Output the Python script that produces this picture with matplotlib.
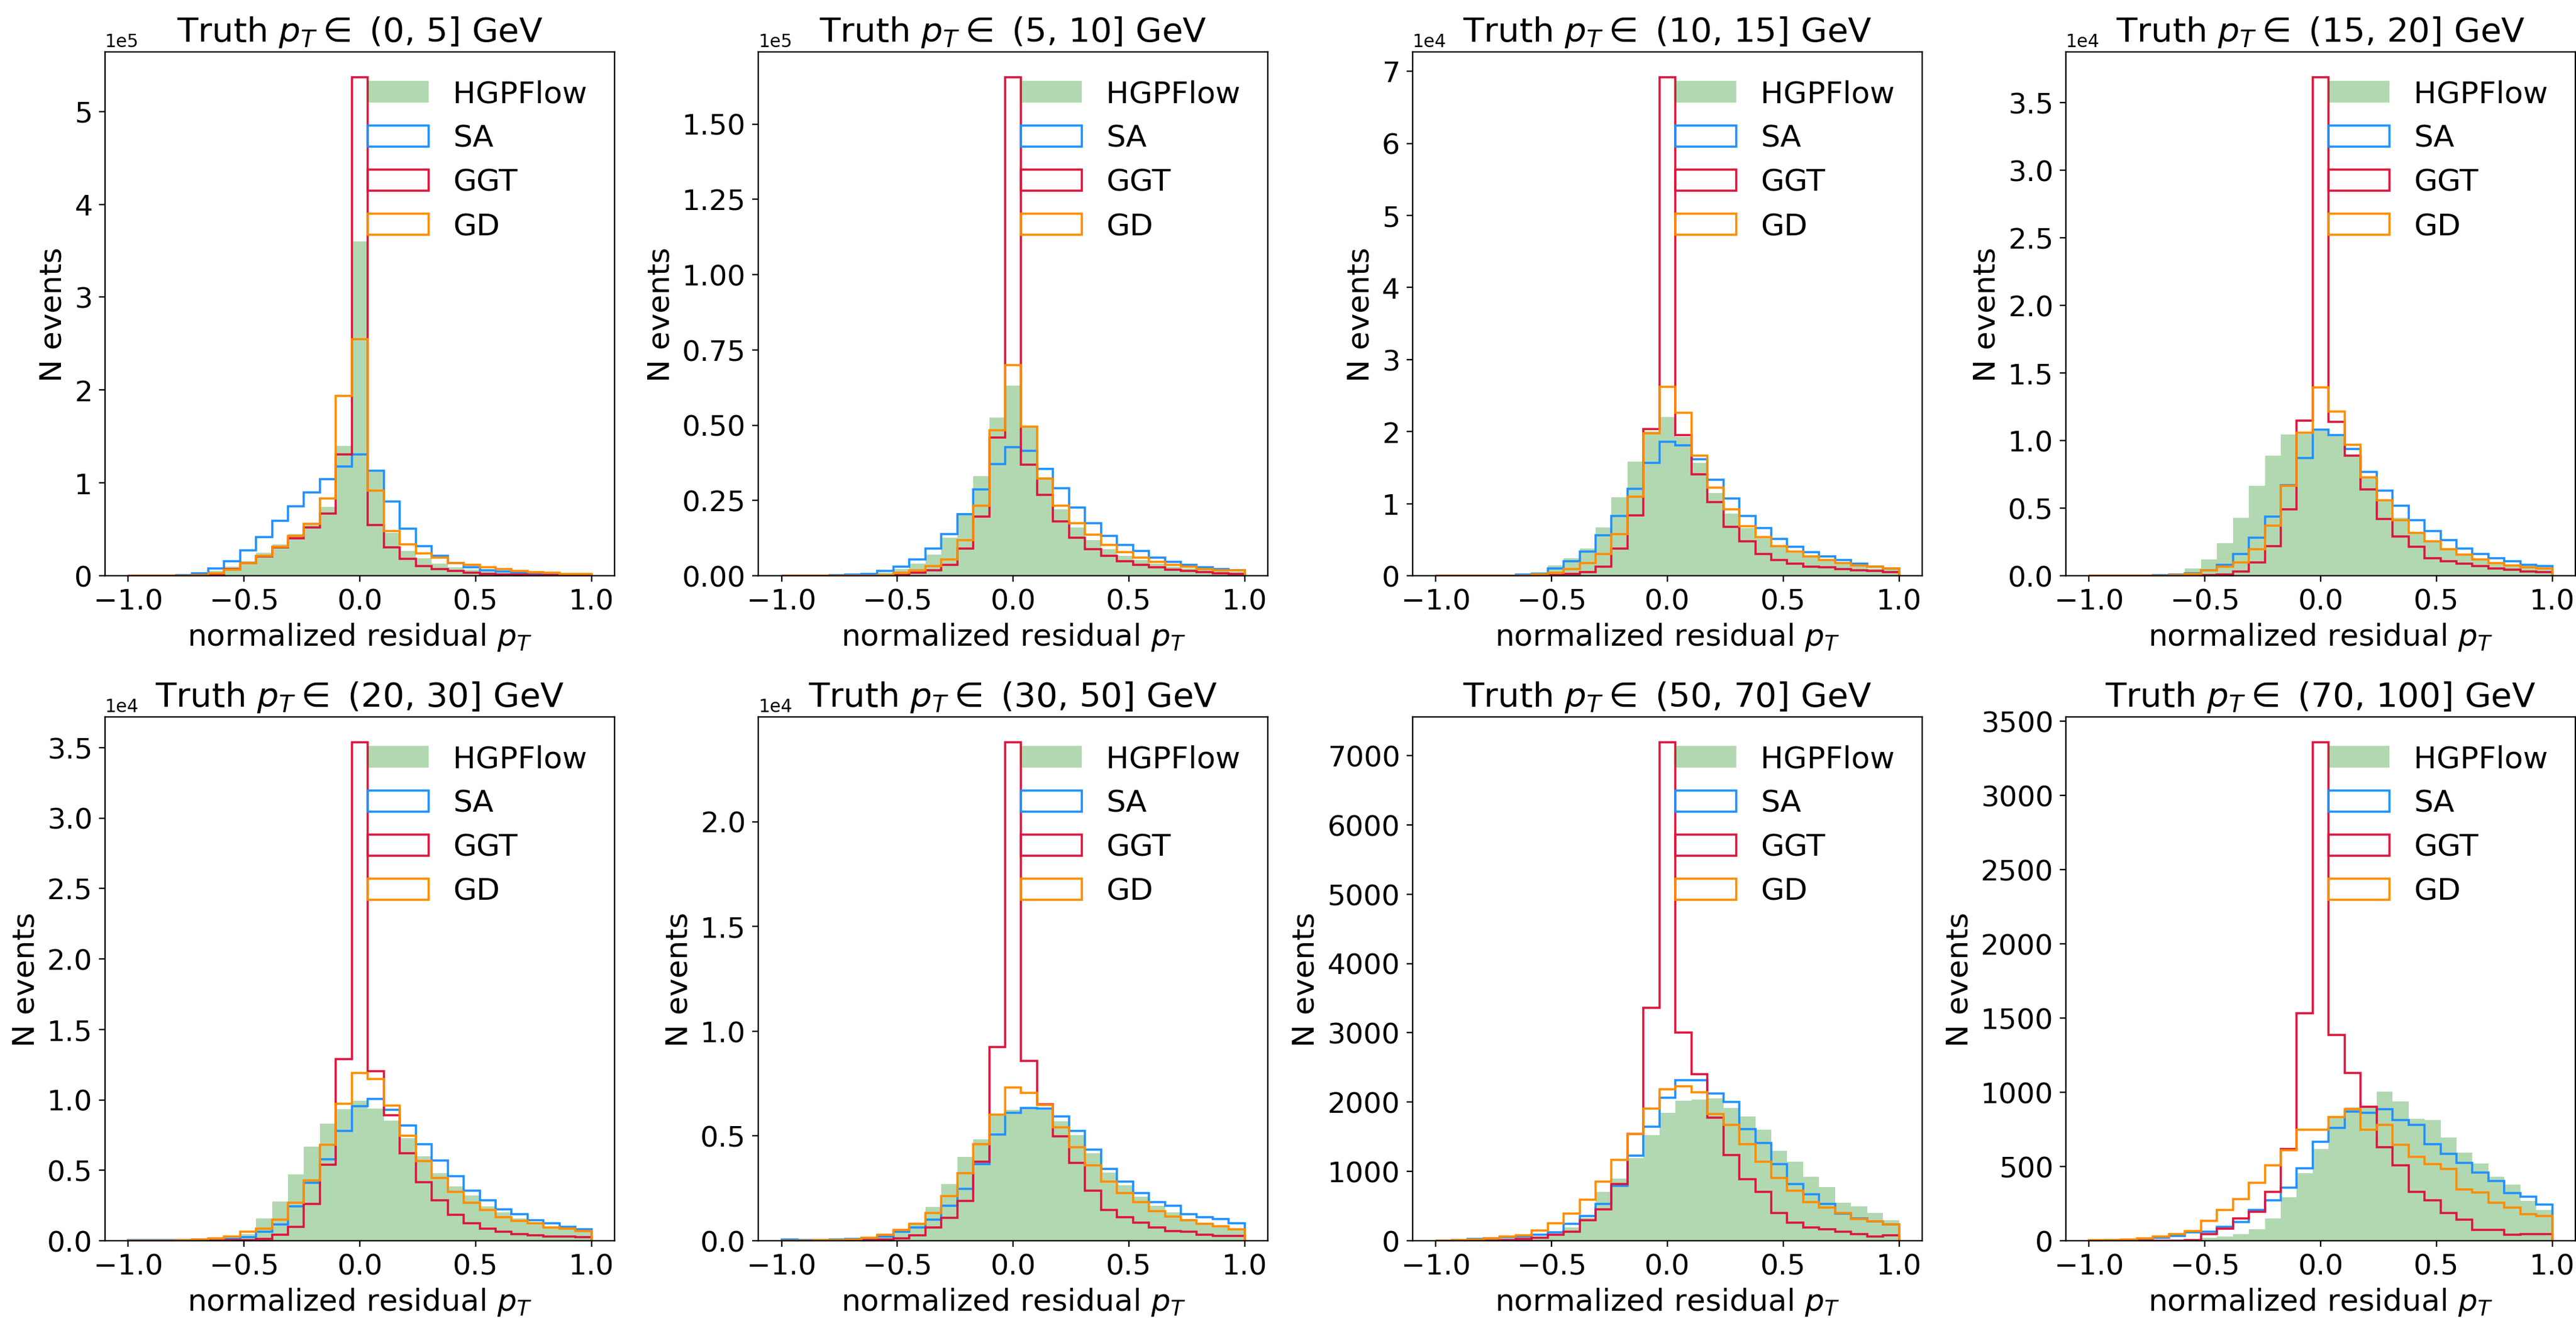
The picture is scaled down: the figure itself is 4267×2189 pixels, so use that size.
import numpy as np
import matplotlib
matplotlib.use("Agg")
import matplotlib.pyplot as plt
from matplotlib.ticker import MaxNLocator

# bins of the normalized residual, 29 bins from -1 to 1
edges = np.linspace(-1, 1, 30)
centers = 0.5 * (edges[:-1] + edges[1:])

titles = ["(0, 5]", "(5, 10]", "(10, 15]", "(15, 20]",
          "(20, 30]", "(30, 50]", "(50, 70]", "(70, 100]"]
scales = [1e5, 1e5, 1e4, 1e4, 1e4, 1e4, 1, 1]

# --- (0, 5] GeV, units of 1e5
hgp_1 = [0, 0, 0, 0.002, 0.02, 0.055, 0.1, 0.16, 0.25, 0.34, 0.45, 0.55, 0.74, 1.40, 3.6,
         1.12, 0.46, 0.27, 0.19, 0.13, 0.09, 0.065, 0.045, 0.032, 0.024, 0.018, 0.013, 0.009, 0.006]
sa_1 = [0, 0.002, 0.003, 0.006, 0.026, 0.08, 0.157, 0.276, 0.42, 0.59, 0.75, 0.9, 1.04, 1.18, 1.305,
        1.13, 0.8, 0.51, 0.32, 0.215, 0.14, 0.09, 0.058, 0.044, 0.032, 0.02, 0.015, 0.01, 0.006]
ggt_1 = [0, 0, 0, 0.002, 0.005, 0.015, 0.07, 0.137, 0.21, 0.305, 0.405, 0.52, 0.67, 1.305, 5.37,
         0.55, 0.305, 0.18, 0.108, 0.073, 0.05, 0.035, 0.023, 0.017, 0.012, 0.008, 0.006, 0.004, 0.003]
gd_1 = [0, 0, 0, 0.002, 0.01, 0.026, 0.064, 0.14, 0.215, 0.31, 0.43, 0.56, 0.83, 1.94, 2.55,
        0.92, 0.485, 0.34, 0.24, 0.195, 0.14, 0.12, 0.09, 0.07, 0.052, 0.04, 0.032, 0.023, 0.02]

# --- (5, 10] GeV, units of 1e5
hgp_2 = [0, 0, 0, 0, 0.002, 0.004, 0.011, 0.023, 0.04, 0.07, 0.126, 0.208, 0.33, 0.526, 0.632,
         0.496, 0.326, 0.22, 0.16, 0.118, 0.088, 0.067, 0.052, 0.04, 0.031, 0.025, 0.02, 0.017, 0.013]
sa_2 = [0, 0, 0, 0.002, 0.004, 0.007, 0.016, 0.03, 0.054, 0.09, 0.138, 0.204, 0.286, 0.37, 0.428,
        0.416, 0.355, 0.29, 0.226, 0.174, 0.133, 0.102, 0.082, 0.06, 0.046, 0.036, 0.028, 0.022, 0.018]
ggt_2 = [0, 0, 0, 0, 0, 0, 0.001, 0.003, 0.01, 0.019, 0.036, 0.09, 0.196, 0.46, 1.656,
         0.368, 0.268, 0.181, 0.126, 0.088, 0.066, 0.049, 0.037, 0.028, 0.02, 0.016, 0.012, 0.008, 0.007]
gd_2 = [0, 0, 0, 0, 0, 0.001, 0.003, 0.01, 0.018, 0.032, 0.055, 0.118, 0.232, 0.484, 0.70,
        0.496, 0.322, 0.232, 0.175, 0.136, 0.103, 0.079, 0.06, 0.046, 0.037, 0.03, 0.023, 0.019, 0.018]

# --- (10, 15] GeV, units of 1e4
hgp_3 = [0, 0, 0, 0, 0.005, 0.02, 0.05, 0.14, 0.24, 0.38, 0.67, 1.09, 1.58, 2.0, 2.2,
         1.93, 1.57, 1.145, 0.86, 0.66, 0.52, 0.41, 0.32, 0.26, 0.21, 0.165, 0.135, 0.105, 0.085]
sa_3 = [0, 0, 0, 0, 0.005, 0.015, 0.03, 0.1, 0.2, 0.34, 0.56, 0.83, 1.21, 1.57, 1.86,
        1.81, 1.62, 1.33, 1.07, 0.83, 0.66, 0.51, 0.40, 0.33, 0.27, 0.215, 0.17, 0.13, 0.105]
ggt_3 = [0, 0, 0, 0, 0, 0, 0.003, 0.01, 0.025, 0.055, 0.13, 0.38, 0.84, 2.04, 6.92,
         1.95, 1.41, 1.02, 0.68, 0.48, 0.3, 0.215, 0.165, 0.13, 0.115, 0.095, 0.075, 0.065, 0.055]
gd_3 = [0, 0, 0, 0, 0, 0.005, 0.02, 0.045, 0.095, 0.18, 0.3, 0.58, 1.1, 1.98, 2.62,
        2.26, 1.67, 1.22, 0.92, 0.69, 0.54, 0.41, 0.34, 0.27, 0.215, 0.175, 0.145, 0.125, 0.1]

# --- (15, 20] GeV, units of 1e4
hgp_4 = [0, 0, 0, 0, 0.004, 0.016, 0.056, 0.12, 0.244, 0.43, 0.664, 0.89, 1.045, 1.05, 1.07,
         1.03, 0.89, 0.73, 0.56, 0.43, 0.316, 0.25, 0.196, 0.153, 0.123, 0.096, 0.078, 0.062, 0.05]
sa_4 = [0, 0, 0, 0, 0.003, 0.008, 0.02, 0.043, 0.083, 0.163, 0.28, 0.437, 0.67, 0.87, 1.08,
        1.04, 0.94, 0.77, 0.63, 0.517, 0.41, 0.33, 0.262, 0.2, 0.163, 0.128, 0.107, 0.083, 0.07]
ggt_4 = [0, 0, 0, 0, 0, 0, 0, 0.003, 0.01, 0.03, 0.1, 0.22, 0.49, 1.15, 3.69,
         1.14, 0.89, 0.64, 0.42, 0.29, 0.214, 0.128, 0.11, 0.088, 0.072, 0.056, 0.045, 0.03, 0.027]
gd_4 = [0, 0, 0, 0, 0.002, 0.005, 0.016, 0.043, 0.067, 0.1, 0.196, 0.37, 0.664, 1.06, 1.395,
        1.213, 0.97, 0.73, 0.56, 0.41, 0.316, 0.255, 0.196, 0.155, 0.123, 0.096, 0.075, 0.062, 0.054]

# --- (20, 30] GeV, units of 1e4
hgp_5 = [0, 0, 0, 0.002, 0.004, 0.008, 0.013, 0.046, 0.16, 0.28, 0.47, 0.67, 0.83, 0.936, 0.995,
         0.94, 0.854, 0.73, 0.6, 0.48, 0.385, 0.32, 0.243, 0.2, 0.16, 0.128, 0.1, 0.085, 0.064]
sa_5 = [0.005, 0.005, 0.005, 0.005, 0.007, 0.01, 0.013, 0.026, 0.064, 0.115, 0.244, 0.41, 0.58, 0.78, 0.954,
        1.008, 0.93, 0.82, 0.685, 0.57, 0.46, 0.354, 0.287, 0.223, 0.187, 0.146, 0.126, 0.1, 0.082]
ggt_5 = [0, 0, 0, 0, 0, 0.002, 0.003, 0.005, 0.013, 0.044, 0.1, 0.26, 0.54, 1.29, 3.54,
         1.205, 0.89, 0.62, 0.415, 0.287, 0.185, 0.123, 0.085, 0.064, 0.049, 0.038, 0.03, 0.03, 0.026]
gd_5 = [0, 0, 0.002, 0.004, 0.008, 0.018, 0.03, 0.064, 0.085, 0.15, 0.27, 0.43, 0.68, 0.974, 1.19,
        1.15, 0.96, 0.744, 0.564, 0.444, 0.346, 0.27, 0.218, 0.167, 0.141, 0.123, 0.095, 0.085, 0.07]

# --- (30, 50] GeV, units of 1e4
hgp_6 = [0, 0, 0, 0.004, 0.007, 0.01, 0.02, 0.046, 0.086, 0.162, 0.27, 0.4, 0.485, 0.606, 0.626,
         0.635, 0.626, 0.571, 0.503, 0.417, 0.325, 0.265, 0.21, 0.167, 0.136, 0.103, 0.086, 0.069, 0.055]
sa_6 = [0.005, 0.004, 0.004, 0.005, 0.01, 0.012, 0.02, 0.043, 0.064, 0.1, 0.167, 0.248, 0.365, 0.506, 0.61,
        0.635, 0.632, 0.592, 0.523, 0.434, 0.342, 0.282, 0.227, 0.184, 0.167, 0.127, 0.112, 0.105, 0.084]
ggt_6 = [0, 0, 0, 0, 0, 0.003, 0.005, 0.012, 0.026, 0.064, 0.11, 0.19, 0.377, 0.924, 2.38,
         0.859, 0.652, 0.497, 0.373, 0.239, 0.146, 0.112, 0.086, 0.064, 0.046, 0.043, 0.029, 0.024, 0.024]
gd_6 = [0, 0, 0.002, 0.004, 0.007, 0.015, 0.03, 0.052, 0.08, 0.132, 0.213, 0.322, 0.46, 0.602, 0.731,
        0.706, 0.649, 0.542, 0.447, 0.361, 0.282, 0.227, 0.184, 0.141, 0.115, 0.098, 0.08, 0.069, 0.055]

# --- (50, 70] GeV, counts
hgp_7 = [0, 5, 10, 20, 35, 35, 60, 90, 190, 330, 710, 895, 1190, 1520, 1845,
         2020, 2040, 2055, 1920, 1795, 1605, 1300, 1140, 920, 775, 545, 495, 400, 295]
sa_7 = [5, 10, 25, 35, 50, 60, 90, 125, 245, 360, 530, 790, 1230, 1650, 2065,
        2320, 2320, 2125, 2000, 1610, 1415, 1110, 815, 670, 530, 390, 320, 280, 235]
ggt_7 = [0, 0, 0, 0, 10, 25, 45, 90, 130, 295, 450, 815, 1545, 3365, 7195,
         3000, 2400, 1780, 1240, 885, 710, 400, 260, 190, 165, 130, 100, 60, 75]
gd_7 = [5, 10, 20, 35, 65, 75, 150, 255, 390, 590, 850, 1170, 1545, 1910, 2185,
        2230, 2140, 1830, 1675, 1390, 1140, 905, 720, 555, 480, 400, 310, 280, 235]

# --- (70, 100] GeV, counts
hgp_8 = [0, 0, 0, 0, 0, 4, 9, 20, 27, 47, 78, 152, 291, 457, 620,
         829, 897, 897, 1003, 939, 823, 815, 694, 594, 521, 432, 380, 269, 208]
sa_8 = [2, 3, 5, 9, 20, 31, 58, 63, 94, 125, 208, 273, 356, 486, 665,
        759, 869, 860, 886, 812, 779, 650, 584, 524, 461, 403, 322, 295, 244]
ggt_8 = [0, 0, 0, 0, 0, 0, 3, 47, 81, 150, 195, 329, 618, 1531, 3359,
         1386, 1131, 902, 631, 510, 329, 273, 188, 141, 74, 74, 40, 47, 43]
gd_8 = [3, 4, 7, 16, 27, 47, 67, 134, 208, 282, 389, 510, 611, 748, 748,
        835, 886, 748, 779, 647, 564, 517, 483, 345, 325, 255, 222, 181, 168]

hgp_all = [hgp_1, hgp_2, hgp_3, hgp_4, hgp_5, hgp_6, hgp_7, hgp_8]
sa_all = [sa_1, sa_2, sa_3, sa_4, sa_5, sa_6, sa_7, sa_8]
ggt_all = [ggt_1, ggt_2, ggt_3, ggt_4, ggt_5, ggt_6, ggt_7, ggt_8]
gd_all = [gd_1, gd_2, gd_3, gd_4, gd_5, gd_6, gd_7, gd_8]

plt.rcParams['axes.formatter.limits'] = [-4, 4]

fig = plt.figure(figsize=(20, 10.264), dpi=213.35)

# axes boxes (left, bottom) in figure fractions
col_left = [0.0408, 0.2944, 0.5484, 0.8020]
row_bottom = [0.5639, 0.0607]
width, height = 0.1978, 0.3963

for i in range(8):
    ax = fig.add_axes([col_left[i % 4], row_bottom[i // 4], width, height])
    s = scales[i]
    ax.hist(centers, bins=edges, weights=np.array(hgp_all[i]) * s,
            histtype='stepfilled', color='green', alpha=0.3, label='HGPFlow')
    ax.hist(centers, bins=edges, weights=np.array(sa_all[i]) * s,
            histtype='step', color='dodgerblue', lw=1.2, label='SA')
    ax.hist(centers, bins=edges, weights=np.array(ggt_all[i]) * s,
            histtype='step', color='crimson', lw=1.2, label='GGT')
    ax.hist(centers, bins=edges, weights=np.array(gd_all[i]) * s,
            histtype='step', color='darkorange', lw=1.2, label='GD')

    ax.set_title(r"Truth $p_T \in$ " + titles[i] + " GeV", fontsize=19)
    ax.set_xlabel(r"normalized residual $p_T$", fontsize=17, labelpad=3)
    ax.set_ylabel("N events", fontsize=17)
    ax.set_xticks([-1.0, -0.5, 0.0, 0.5, 1.0])
    ax.yaxis.set_major_locator(MaxNLocator(nbins=8, steps=[1, 2.5, 5, 10]))
    ax.tick_params(labelsize=16)
    ax.legend(loc='upper right', frameon=False, fontsize=17)

fig.savefig("out.png", dpi=213.35)
